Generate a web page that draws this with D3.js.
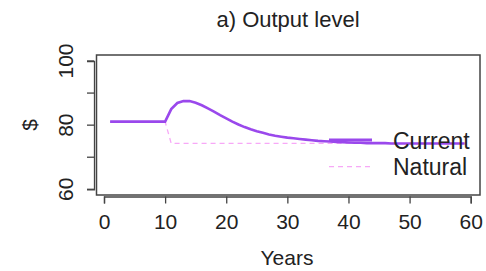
<!DOCTYPE html>
<html>
<head>
<meta charset="utf-8">
<script src="https://cdn.jsdelivr.net/npm/d3@7"></script>
<style>
  body { margin: 0; background: #fff; }
  svg { display: block; font-family: "Liberation Sans", Arial, sans-serif; }
</style>
</head>
<body>
<svg id="chart" width="486" height="271"></svg>
<script>
let years = d3.range(1, 60);
let current = [
  81.1, 81.1, 81.1, 81.1, 81.1, 81.1, 81.1, 81.1, 81.1, 81.1,
  85.0, 86.9, 87.5, 87.5, 87.0, 86.2, 85.2, 84.2, 83.1, 82.1,
  81.1, 80.2, 79.4, 78.7, 78.1, 77.6, 77.1, 76.7, 76.4, 76.1,
  75.9, 75.7, 75.5, 75.3, 75.1, 75.0, 74.9, 74.8, 74.7, 74.6,
  74.5, 74.5, 74.4, 74.4, 74.4, 74.4, 74.3, 74.3, 74.3, 74.3,
  74.3, 74.3, 74.3, 74.3, 74.3, 74.3, 74.3, 74.3, 74.3
];
let natural = years.map(y => y <= 10 ? 81.1 : 74.3);
let xTicks = [0, 10, 20, 30, 40, 50, 60];
let yTicks = [60, 70, 80, 90, 100];
let yLabels = [60, 80, 100];
let seriesNames = ['Current', 'Natural'];

let svg = d3.select('#chart');
let box = { left: 96.5, right: 480, top: 55, bottom: 195 };

let x = d3.scaleLinear().domain([0, 60]).range([104, 470.7]);
let y = d3.scaleLinear().domain([60, 100]).range([189.3, 61]);

// title
svg.append('text')
  .attr('x', 288).attr('y', 27)
  .attr('text-anchor', 'middle')
  .style('font-size', '22px')
  .style('fill', '#222')
  .text('a) Output level');

// lines
let line = d3.line()
  .x((d, i) => x(years[i]))
  .y(d => y(d));

svg.append('path')
  .datum(natural)
  .attr('d', line)
  .style('fill', 'none')
  .style('stroke', '#f7a8f7')
  .style('stroke-width', 1.3)
  .style('stroke-dasharray', '5,4');

svg.append('path')
  .datum(current)
  .attr('d', line)
  .style('fill', 'none')
  .style('stroke', '#9a48ec')
  .style('stroke-width', 2.6);

// axes
let xAxis = svg.append('g')
  .attr('transform', 'translate(0,' + (box.bottom + 1.5) + ')')
  .call(d3.axisBottom(x).tickValues(xTicks).tickSize(7).tickPadding(11));
xAxis.selectAll('text').style('font-size', '21px').style('fill', '#222');

let yAxis = svg.append('g')
  .attr('transform', 'translate(' + (box.left - 2.5) + ',0)')
  .call(d3.axisLeft(y).tickValues(yTicks).tickSize(7)
    .tickFormat(d => yLabels.includes(d) ? d : ''));

// R style: rotated y labels, baseline next to the ticks
yAxis.selectAll('.tick').attr('transform', null);
yAxis.selectAll('.tick line')
  .attr('y1', d => y(d)).attr('y2', d => y(d));
yAxis.selectAll('.tick text')
  .attr('x', -21)
  .attr('y', d => y(d))
  .attr('dy', 0)
  .attr('transform', d => 'rotate(-90,-21,' + y(d) + ')')
  .style('text-anchor', 'middle')
  .style('font-size', '21px')
  .style('fill', '#222');

[xAxis, yAxis].forEach(a => {
  a.selectAll('line, path').style('stroke', '#444').style('stroke-width', 1.3);
});

// plot frame
svg.append('rect')
  .attr('x', box.left).attr('y', box.top)
  .attr('width', box.right - box.left).attr('height', box.bottom - box.top)
  .style('fill', 'none')
  .style('stroke', '#444')
  .style('stroke-width', 1.5);

// axis titles
svg.append('text')
  .attr('x', 287).attr('y', 265)
  .attr('text-anchor', 'middle')
  .style('font-size', '21px')
  .style('fill', '#222')
  .text('Years');

svg.append('text')
  .attr('transform', 'translate(37,125) rotate(-90)')
  .attr('text-anchor', 'middle')
  .style('font-size', '21px')
  .style('fill', '#222')
  .text('$');

// legend
let legend = svg.append('g');
let legendY = d3.scalePoint().domain(seriesNames).range([140, 166.7]);
legend.selectAll('line')
  .data(seriesNames).enter()
  .append('line')
  .attr('x1', 329).attr('x2', 372)
  .attr('y1', d => legendY(d)).attr('y2', d => legendY(d))
  .style('stroke', d => d == 'Current' ? '#9a48ec' : '#f7a8f7')
  .style('stroke-width', d => d == 'Current' ? 3 : 1.3)
  .style('stroke-dasharray', d => d == 'Current' ? null : '5,4');
legend.selectAll('text')
  .data(seriesNames).enter()
  .append('text')
  .attr('x', 393)
  .attr('y', d => legendY(d) + 8.5)
  .style('font-size', '23px')
  .style('fill', '#222')
  .text(d => d);
</script>
</body>
</html>
